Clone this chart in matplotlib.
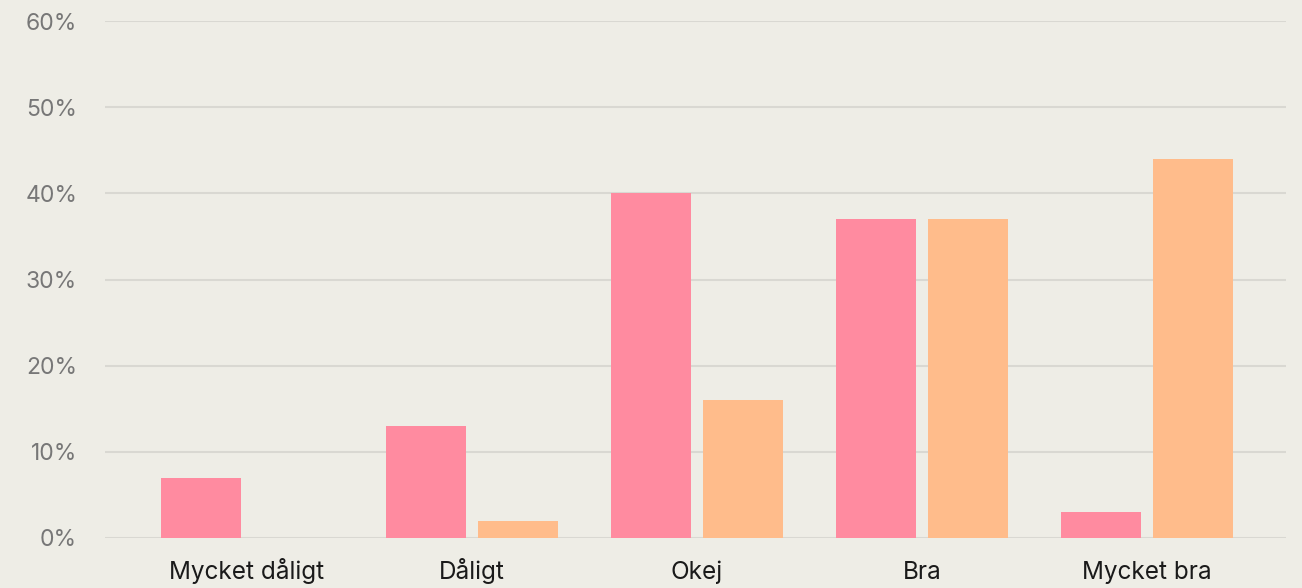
import matplotlib.pyplot as plt
import numpy as np

plt.rcParams['font.family'] = ['Inter', 'DejaVu Sans']

categories = ["Mycket dåligt", "Dåligt", "Okej", "Bra", "Mycket bra"]
series_a = [7, 13, 40, 37, 3]
series_b = [0, 2, 16, 37, 44]
yticks = [0, 10, 20, 30, 40, 50, 60]

bg = '#EEEDE6'
fig = plt.figure(figsize=(13.02, 5.88), dpi=100, facecolor=bg)
ax = fig.add_axes([105/1302, 50/588, (1286-105)/1302, (538-21)/588], facecolor=bg)

x = np.arange(len(categories))
w = 80/225
off = 46/225
ax.bar(x - off, series_a, width=w, color='#FF8BA0', zorder=3)
ax.bar(x + off, series_b, width=w, color='#FFBC8B', zorder=3)

ax.set_xlim((105-247)/225, (1286-247)/225)
ax.set_ylim(0, 60)
ax.set_yticks(yticks)
ax.set_yticklabels([f"{v}%" for v in yticks], color='#777777', fontsize=16.5)
ax.set_xticks(x)
ax.set_xticklabels(categories, color='#1a1a1a', fontsize=17.5)
for lbl in ax.get_xticklabels():
    lbl.set_va('baseline')
ax.tick_params(axis='both', length=0)
ax.tick_params(axis='y', pad=20)
ax.tick_params(axis='x', pad=41/100*72)
ax.grid(axis='y', color='#D9D8D2', linewidth=1.5, zorder=0)
for s in ax.spines.values():
    s.set_visible(False)

fig.savefig('out.png', dpi=100, facecolor=bg)
